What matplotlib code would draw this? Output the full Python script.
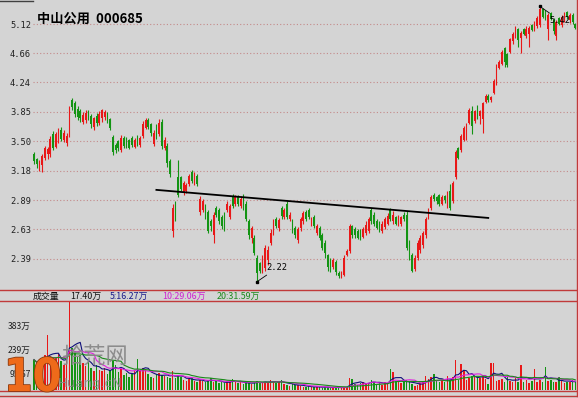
import matplotlib
matplotlib.use('Agg')
import matplotlib.pyplot as plt
from matplotlib.lines import Line2D
import matplotlib.patheffects as pe
import numpy as np
import pandas as pd

# ---------------- data ----------------
stock_name = "中山公用  000685"
price_ticks = [5.12, 4.66, 4.24, 3.85, 3.50, 3.18, 2.89, 2.63, 2.39]
vol_ticks = [383.0, 239.4, 95.7]
vol_tick_labels = ["383万", "239万", "95.67"]
vol_header = ["成交量", "17.40万", "5:16.27万", "10:29.06万", "20:31.59万"]

opens = [3.36,3.30,3.23,3.24,3.32,3.36,3.36,3.58,3.44,3.52,
 3.63,3.52,3.48,3.58,4.00,3.96,3.89,3.86,3.73,3.75,
 3.85,3.80,3.67,3.80,3.71,3.77,3.79,3.83,3.76,3.55,
 3.46,3.50,3.40,3.54,3.53,3.51,3.54,3.44,3.55,3.46,
 3.56,3.66,3.75,3.70,3.47,3.67,3.58,3.73,3.42,3.45,
 3.28,2.62,2.86,3.12,3.12,2.96,2.98,3.05,3.17,3.06,
 3.13,2.78,2.80,2.84,2.78,2.70,2.58,2.82,2.80,2.74,
 2.76,2.80,2.74,2.92,2.86,2.92,2.84,2.94,2.86,2.70,
 2.56,2.56,2.40,2.36,2.30,2.32,2.38,2.52,2.60,2.72,
 2.64,2.82,2.74,2.86,2.72,2.70,2.64,2.54,2.64,2.70,
 2.78,2.80,2.67,2.74,2.60,2.64,2.58,2.52,2.42,2.38,
 2.33,2.37,2.28,2.26,2.27,2.42,2.45,2.66,2.63,2.62,
 2.60,2.57,2.60,2.62,2.80,2.76,2.70,2.69,2.62,2.65,
 2.68,2.80,2.70,2.74,2.68,2.68,2.76,2.76,2.52,2.42,
 2.31,2.40,2.46,2.50,2.58,2.74,2.82,2.94,2.92,2.94,
 2.86,2.93,2.87,2.98,2.88,3.12,3.42,3.40,3.52,3.60,
 3.72,3.86,3.74,3.92,3.80,3.76,3.98,4.06,4.00,4.10,
 4.22,4.44,4.50,4.74,4.64,4.68,4.84,4.94,5.04,4.90,
 5.04,4.92,4.96,5.10,5.02,5.08,5.10,5.38,5.34,5.04,
 5.30,5.18,4.92,5.22,5.10,5.18,5.32,5.18,5.28,5.12]

closes = [3.28,3.25,3.27,3.34,3.42,3.41,3.53,3.43,3.58,3.62,
 3.53,3.59,3.56,3.90,3.91,3.83,3.79,3.77,3.81,3.84,
 3.78,3.70,3.77,3.71,3.83,3.87,3.85,3.75,3.66,3.38,
 3.40,3.42,3.54,3.45,3.45,3.43,3.46,3.52,3.47,3.54,
 3.70,3.75,3.67,3.59,3.60,3.56,3.72,3.45,3.52,3.26,
 3.15,2.82,2.74,2.94,3.00,3.06,3.04,3.13,3.08,3.15,
 3.05,2.90,2.88,2.74,2.62,2.66,2.76,2.76,2.70,2.66,
 2.64,2.86,2.84,2.84,2.92,2.86,2.90,2.82,2.72,2.58,
 2.64,2.44,2.28,2.30,2.40,2.48,2.46,2.60,2.70,2.66,
 2.71,2.75,2.80,2.74,2.76,2.62,2.58,2.63,2.72,2.77,
 2.72,2.74,2.72,2.66,2.66,2.56,2.48,2.44,2.33,2.31,
 2.38,2.29,2.26,2.29,2.40,2.45,2.66,2.58,2.58,2.56,
 2.55,2.63,2.67,2.72,2.70,2.68,2.64,2.63,2.68,2.72,
 2.75,2.72,2.76,2.68,2.74,2.74,2.72,2.48,2.40,2.30,
 2.40,2.52,2.56,2.60,2.72,2.80,2.92,2.90,2.88,2.86,
 2.92,2.89,2.95,2.82,3.06,3.38,3.32,3.56,3.66,3.70,
 3.88,3.68,3.86,3.80,3.86,3.96,4.06,4.00,4.04,4.26,
 4.46,4.52,4.68,4.52,4.48,4.88,4.96,5.04,4.86,4.98,
 4.96,5.04,5.06,5.02,5.14,5.22,5.38,5.24,5.20,5.28,
 5.20,5.00,5.16,5.12,5.24,5.30,5.24,5.28,5.16,5.06]

highs = [3.38,3.32,3.29,3.36,3.45,3.44,3.56,3.62,3.61,3.65,
 3.67,3.63,3.59,3.93,4.03,3.99,3.92,3.89,3.85,3.87,
 3.88,3.83,3.79,3.84,3.86,3.89,3.88,3.85,3.78,3.57,
 3.48,3.52,3.57,3.56,3.55,3.53,3.56,3.54,3.57,3.56,
 3.74,3.77,3.77,3.72,3.63,3.70,3.76,3.76,3.55,3.48,
 3.30,2.86,2.88,3.29,3.13,3.08,3.06,3.15,3.19,3.17,
 3.15,2.93,2.90,2.86,2.80,2.72,2.78,2.84,2.82,2.76,
 2.78,2.88,2.86,2.95,2.94,2.94,2.93,2.95,2.88,2.72,
 2.66,2.58,2.42,2.37,2.42,2.50,2.49,2.63,2.72,2.74,
 2.73,2.84,2.82,2.88,2.78,2.72,2.66,2.65,2.74,2.79,
 2.80,2.82,2.74,2.76,2.68,2.66,2.60,2.54,2.43,2.40,
 2.40,2.38,2.30,2.30,2.42,2.47,2.68,2.67,2.65,2.63,
 2.63,2.65,2.70,2.74,2.82,2.78,2.72,2.70,2.70,2.74,
 2.77,2.82,2.79,2.75,2.76,2.75,2.78,2.79,2.54,2.44,
 2.42,2.54,2.58,2.62,2.74,2.82,2.94,2.96,2.93,2.95,
 2.94,2.94,2.98,3.05,3.08,3.40,3.44,3.58,3.68,3.72,
 3.90,3.92,3.88,3.94,3.88,3.98,4.08,4.08,4.06,4.28,
 4.50,4.55,4.70,4.76,4.66,4.90,4.99,5.08,5.06,5.00,
 5.06,5.08,5.08,5.12,5.17,5.25,5.42,5.40,5.36,5.31,
 5.33,5.22,5.18,5.24,5.27,5.33,5.34,5.31,5.30,5.14]

lows = [3.25,3.21,3.18,3.17,3.29,3.31,3.33,3.40,3.42,3.48,
 3.50,3.49,3.45,3.55,3.87,3.79,3.75,3.73,3.70,3.71,
 3.75,3.66,3.63,3.68,3.69,3.73,3.75,3.72,3.63,3.35,
 3.37,3.39,3.38,3.42,3.43,3.41,3.44,3.42,3.45,3.44,
 3.54,3.64,3.64,3.56,3.45,3.53,3.56,3.41,3.40,3.22,
 3.12,2.57,2.70,2.92,2.98,2.94,2.96,3.03,3.06,3.04,
 3.03,2.76,2.78,2.72,2.60,2.62,2.52,2.74,2.68,2.63,
 2.62,2.78,2.72,2.82,2.84,2.84,2.82,2.80,2.70,2.55,
 2.52,2.42,2.22,2.28,2.28,2.30,2.34,2.50,2.58,2.64,
 2.62,2.72,2.72,2.72,2.70,2.60,2.56,2.52,2.62,2.68,
 2.70,2.72,2.66,2.64,2.58,2.54,2.46,2.40,2.30,2.29,
 2.31,2.27,2.25,2.25,2.26,2.41,2.44,2.56,2.56,2.55,
 2.54,2.56,2.58,2.60,2.68,2.66,2.63,2.61,2.60,2.63,
 2.67,2.70,2.68,2.67,2.66,2.66,2.70,2.46,2.38,2.29,
 2.30,2.38,2.44,2.48,2.56,2.72,2.80,2.88,2.86,2.84,
 2.85,2.87,2.82,2.80,2.87,3.10,3.30,3.38,3.50,3.52,
 3.70,3.58,3.72,3.76,3.70,3.60,3.96,3.98,3.98,4.08,
 4.20,4.42,4.48,4.46,4.45,4.66,4.80,4.90,4.76,4.66,
 4.94,4.90,4.75,5.00,5.00,5.05,5.07,5.22,5.18,4.86,
 5.18,4.96,4.86,5.10,5.07,5.16,5.20,5.14,5.12,5.04]

volumes = [180,150,130,175,210,326,200,160,190,215,
 170,150,180,528,250,230,195,210,160,140,
 175,130,115,150,120,110,130,95,120,170,
 150,105,125,90,100,80,95,110,184,110,
 130,125,95,80,70,95,100,90,85,75,
 70,110,70,90,75,60,55,65,70,55,
 50,60,55,45,60,70,50,55,40,45,
 40,50,55,65,45,40,50,35,45,40,
 35,50,55,45,40,50,45,60,50,40,
 45,61,35,30,25,35,30,28,25,20,
 18,22,15,18,20,16,14,18,15,12,
 15,18,14,12,16,20,71,65,35,30,
 40,45,38,42,61,50,35,40,30,45,
 38,124,104,55,45,40,50,60,45,35,
 25,30,40,50,83,65,79,93,55,45,
 60,50,83,60,75,178,59,154,119,60,
 70,85,75,80,70,85,65,35,158,158,
 55,60,65,50,75,55,45,70,50,148,
 45,60,40,55,126,50,60,50,134,55,
 60,50,45,75,55,40,50,45,60,50]

trend_x = [45, 167]
trend_y = [2.99, 2.73]

# ---------------- style ----------------
W, H = 578, 398
BG = '#d4d4d4'
RED = '#e81818'
GREEN = '#139413'
FRAME = '#c03a3a'
GRID = '#c48a8a'
CJK = ['Noto Sans CJK SC', 'DejaVu Sans']
MONO = ['DejaVu Sans Mono']

def fx(px):
    return px / W

def fy(py):
    return 1 - py / H

fig = plt.figure(figsize=(W / 100, H / 100), dpi=100, facecolor=BG)

n = len(closes)
idx = np.arange(n)
o = np.array(opens); c = np.array(closes)
hi_arr = np.array(highs); lo_arr = np.array(lows)
up = c >= o
colors = np.where(up, RED, GREEN)

spacing = 2.72
x_left = (33 - 34) / spacing
x_right = (577 - 34) / spacing

# ---------------- price panel ----------------
ax = fig.add_axes([fx(33), fy(289), fx(577) - fx(33), fy(0) - fy(289)])
ax.set_facecolor(BG)
ax.set_yscale('log')
ax.set_ylim(2.168, 5.535)
ax.set_xlim(x_left, x_right)
for s in ax.spines.values():
    s.set_visible(False)
ax.set_xticks([])
ax.yaxis.set_minor_locator(matplotlib.ticker.NullLocator())
ax.set_yticks(price_ticks)
ax.set_yticklabels([f"{t:.2f}" for t in price_ticks], fontfamily=MONO,
                   fontsize=6.3, color='#202020')
ax.tick_params(axis='y', length=0, pad=1.5)
ax.yaxis.grid(True, linestyle=(0, (1, 2)), color=GRID, linewidth=0.8)
ax.set_axisbelow(True)

ax.vlines(idx, lo_arr, hi_arr, colors=colors, linewidth=0.8, zorder=2)
body_h = np.maximum(np.abs(c - o), 0.004)
ax.bar(idx, body_h, bottom=np.minimum(o, c), width=0.62, color=colors,
       linewidth=0, zorder=3)

ax.plot(trend_x, trend_y, color='black', linewidth=1.3, zorder=4)

hi_i = int(np.argmax(hi_arr))
lo_i = int(np.argmin(lo_arr))
ax.annotate(f"{hi_arr[hi_i]:.2f}", xy=(hi_i, hi_arr[hi_i]), xytext=(7, -10),
            textcoords='offset points', fontsize=6.3, fontfamily=MONO,
            va='center', ha='left', color='black',
            arrowprops=dict(arrowstyle='-', color='black', lw=0.6,
                            shrinkA=0, shrinkB=0), zorder=5)
ax.annotate(f"{lo_arr[lo_i]:.2f}", xy=(lo_i, lo_arr[lo_i]), xytext=(7, 10),
            textcoords='offset points', fontsize=6.3, fontfamily=MONO,
            va='center', ha='left', color='black',
            arrowprops=dict(arrowstyle='-', color='black', lw=0.6,
                            shrinkA=0, shrinkB=0), zorder=5)
ax.plot([hi_i, lo_i], [hi_arr[hi_i], lo_arr[lo_i]], linestyle='none',
        marker='s', markersize=1.8, color='black', zorder=5)

fig.text(fx(37), fy(18.5), stock_name, fontsize=9.5, fontweight='bold',
         fontfamily=CJK, va='center', ha='left', color='black')

# ---------------- volume panel ----------------
axv = fig.add_axes([fx(33), fy(390), fx(577) - fx(33), fy(301) - fy(390)])
axv.set_facecolor(BG)
axv.patch.set_alpha(0)
axv.set_xlim(x_left, x_right)
axv.set_ylim(0, max(volumes))
for s in axv.spines.values():
    s.set_visible(False)
axv.set_xticks([])
axv.set_yticks(vol_ticks)
axv.set_yticklabels(vol_tick_labels, fontfamily=CJK, fontsize=6.2,
                    color='#202020')
axv.tick_params(axis='y', length=0, pad=1.5)

axv.bar(idx, volumes, width=0.55, color=colors, linewidth=0, zorder=2)
vs = pd.Series(volumes, dtype=float)
ma5 = vs.rolling(5, min_periods=1).mean()
ma10 = vs.rolling(10, min_periods=1).mean()
ma20 = vs.rolling(20, min_periods=1).mean()
axv.plot(idx, ma5, color='#10107a', linewidth=0.8, zorder=3)
axv.plot(idx, ma10, color='#e020e0', linewidth=0.8, zorder=3)
axv.plot(idx, ma20, color='#1a8a1a', linewidth=0.8, zorder=3)

hdr_x = [33, 70, 110, 162, 217]
hdr_c = ['#101010', '#101010', '#1a1a8a', '#d020d0', '#1a8a1a']
for t, xp, col in zip(vol_header, hdr_x, hdr_c):
    fig.text(fx(xp), fy(296), t, fontsize=6.4, fontfamily=CJK, color=col,
             va='center', ha='left')

# ---------------- frame lines ----------------
def hline(py, x0, x1, color=FRAME, lw=1.0):
    fig.add_artist(Line2D([fx(x0), fx(x1)], [fy(py), fy(py)], color=color,
                          linewidth=lw, transform=fig.transFigure))

def vline(px, y0, y1, color=FRAME, lw=1.0):
    fig.add_artist(Line2D([fx(px), fx(px)], [fy(y0), fy(y1)], color=color,
                          linewidth=lw, transform=fig.transFigure))

hline(289.5, 0, 577)
hline(300.5, 0, 577)
hline(390.5, 0, 577)
hline(395.5, 0, 577)
vline(576.5, 0, 396)
hline(1.0, 0, 33, color='#404040')

# ---------------- watermark ----------------
fig.text(fx(4), fy(391), "10", color='#ee6a1a', fontsize=33, fontweight='bold',
         fontfamily='DejaVu Sans', fontstretch='condensed',
         va='baseline', ha='left',
         path_effects=[pe.withStroke(linewidth=1.2, foreground='#8a3a10')])
fig.text(fx(61), fy(357), "拾荒网", color='#888888', fontsize=16,
         fontfamily=CJK, va='center', ha='left', alpha=0.95)
fig.text(fx(58), fy(384), "Huang.cN", color='#888888', fontsize=9.5,
         va='center', ha='left', alpha=0.9)

fig.savefig('out.png', dpi=100, facecolor=BG)
